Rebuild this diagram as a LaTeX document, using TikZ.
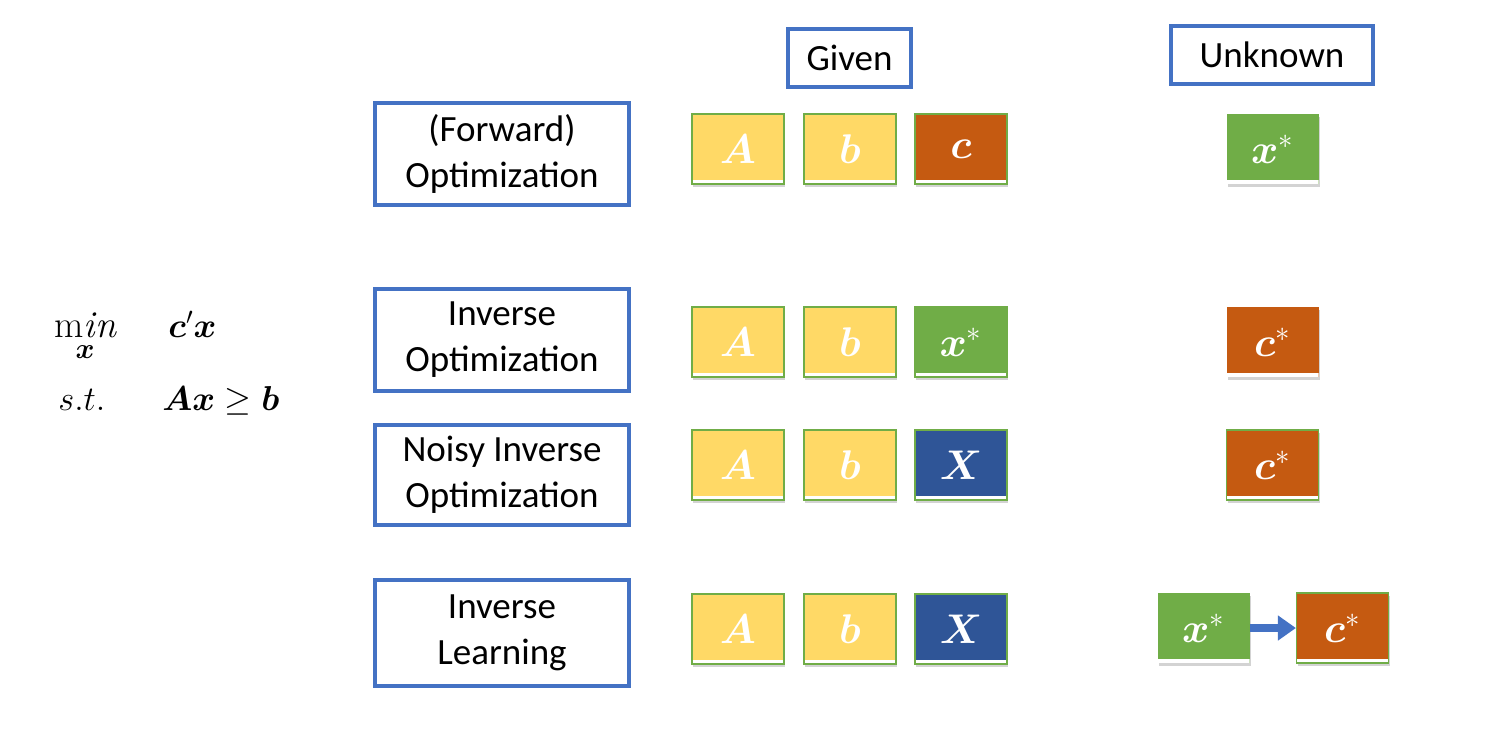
\documentclass[tikz,border=0pt]{standalone}
\usepackage{amsmath,bm}
\usepackage{fontspec}
\setmainfont{Carlito}
\setmathrm{Latin Modern Roman}
\usetikzlibrary{shadows,arrows.meta}
\definecolor{bordblue}{HTML}{4472C4}
\definecolor{yel}{HTML}{FFD966}
\definecolor{org}{HTML}{C55A11}
\definecolor{grn}{HTML}{70AD47}
\definecolor{dblue}{HTML}{2F5597}
\tikzset{
  method/.style={draw=bordblue, line width=2pt, fill=white, minimum width=127pt, align=center, font=\fontsize{18.5}{23}\selectfont, inner sep=0pt},
  head/.style={draw=bordblue, line width=2pt, fill=white, minimum height=29pt, inner sep=0pt, font=\fontsize{18.5}{20}\selectfont},
  sq/.style={fill=#1, minimum width=46pt, minimum height=35pt, inner sep=0pt, text=white,
    font=\fontsize{20.5}{22}\selectfont,
    drop shadow={shadow xshift=0.6pt, shadow yshift=-1.6pt, opacity=0.35},
    path picture={\fill[white] ([yshift=2pt]path picture bounding box.south west) rectangle (path picture bounding box.south east);}},
  gsq/.style={sq=#1, draw=grn, line width=0.6pt},
  formula/.style={anchor=base west, font=\fontsize{16.5}{18}\selectfont, inner sep=1pt},
}
\begin{document}
\begin{tikzpicture}[x=0.5pt,y=-0.5pt]
\useasboundingbox (0,0) rectangle (1491,740);
% headers
\node[head, minimum width=61.5pt] (given) at (849.5,58) {Given};
\node[head, minimum width=101pt] (unknown) at (1272,55) {Unknown};
% method boxes
\node[method, minimum height=51pt] (fwd) at (502,154) {(Forward)\\Optimization};
\node[method, minimum height=51pt] (inv) at (502,340) {Inverse\\Optimization};
\node[method, minimum height=50pt] (noisy) at (502,475) {Noisy Inverse\\Optimization};
\node[method, minimum height=53pt] (learn) at (502,633) {Inverse\\Learning};
% formulation
\node[formula, font=\fontsize{19}{20}\selectfont] (minop) at (52,337) {$\underset{\bm{x}}{\mathrm{m}\mathit{in}}$};
\node[formula] (obj) at (166,337) {$\bm{c}'\bm{x}$};
\node[formula] (st) at (56,410) {$s.t.$};
\node[formula] (cons) at (160,410) {$\bm{A}\bm{x}\geq\bm{b}$};
% row 1
\node[gsq=yel] (A1) at (738,149) {$\bm{A}$};
\node[gsq=yel] (b1) at (850,149) {$\bm{b}$};
\node[gsq=org] (c1) at (961,149) {$\bm{c}$};
\node[sq=grn] (xs1) at (1272.5,149) {$\bm{x}^{*}$};
% row 2
\node[gsq=yel] (A2) at (738,342) {$\bm{A}$};
\node[gsq=yel] (b2) at (850,342) {$\bm{b}$};
\node[gsq=grn] (x2) at (961,342) {$\bm{x}^{*}$};
\node[sq=org] (cs2) at (1272.5,342) {$\bm{c}^{*}$};
% row 3
\node[gsq=yel] (A3) at (738,465) {$\bm{A}$};
\node[gsq=yel] (b3) at (850,465) {$\bm{b}$};
\node[gsq=dblue] (X3) at (961,465) {$\bm{X}$};
\node[gsq=org] (cs3) at (1272.5,465) {$\bm{c}^{*}$};
% row 4
\node[gsq=yel] (A4) at (738,629) {$\bm{A}$};
\node[gsq=yel] (b4) at (850,629) {$\bm{b}$};
\node[gsq=dblue] (X4) at (961,629) {$\bm{X}$};
\node[sq=grn] (xs4) at (1203.5,628) {$\bm{x}^{*}$};
\node[gsq=org] (cs4) at (1342.5,628) {$\bm{c}^{*}$};
\draw[bordblue, line width=4pt, -{Triangle[length=9pt,width=12pt]}] (xs4.east) -- (cs4.west);
\end{tikzpicture}
\end{document}
